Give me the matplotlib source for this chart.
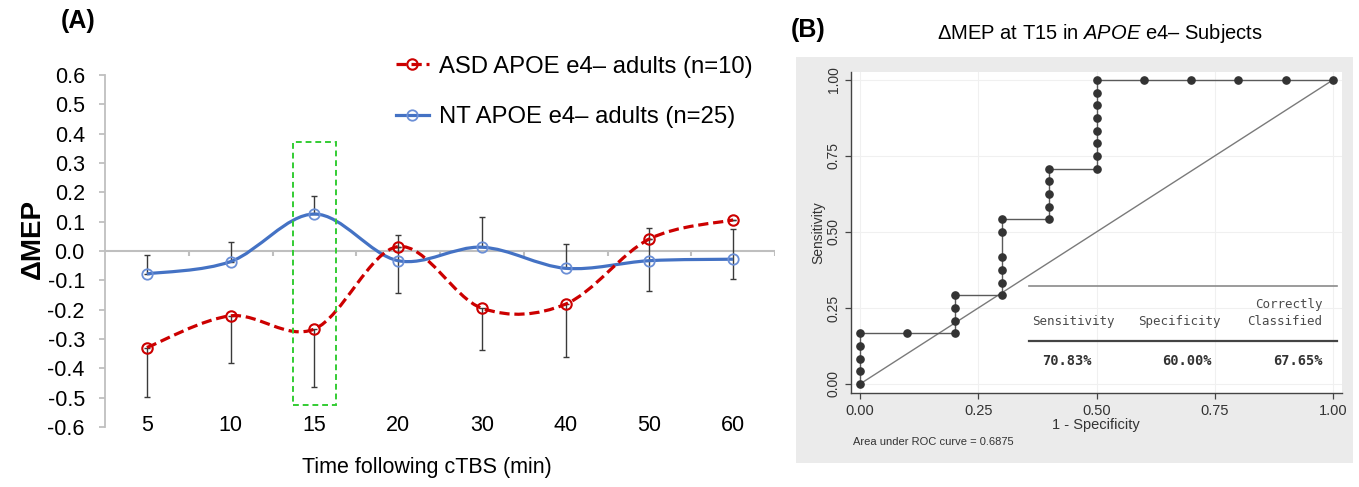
import numpy as np
import matplotlib
matplotlib.use('Agg')
import matplotlib.pyplot as plt
from matplotlib.path import Path
from matplotlib.patches import PathPatch, Rectangle
from matplotlib.lines import Line2D

plt.rcParams['font.family'] = ['Liberation Sans', 'DejaVu Sans']
plt.rcParams['mathtext.fontset'] = 'custom'
plt.rcParams['mathtext.rm'] = 'Liberation Sans'
plt.rcParams['mathtext.it'] = 'Liberation Sans:italic'

# ---------------- Panel A data ----------------
time_labels = ['5', '10', '15', '20', '30', '40', '50', '60']
asd_mean = [-0.329, -0.221, -0.266, 0.015, -0.195, -0.181, 0.041, 0.106]
asd_err_up = [0, 0, 0, 0, 0, 0, 0, 0]
asd_err_down = [0.168, 0.161, 0.199, 0, 0.143, 0.182, 0, 0]
nt_mean = [-0.078, -0.036, 0.126, -0.033, 0.013, -0.059, -0.033, -0.028]
nt_err_up = [0.065, 0.068, 0.063, 0.088, 0.102, 0.083, 0.110, 0.104]
nt_err_down = [0, 0, 0, 0.110, 0, 0, 0.102, 0.069]
asd_label = 'ASD APOE e4\u2013 adults (n=10)'
nt_label = 'NT APOE e4\u2013 adults (n=25)'
y_ticks_a = [-0.6, -0.5, -0.4, -0.3, -0.2, -0.1, 0.0, 0.1, 0.2, 0.3, 0.4, 0.5, 0.6]

# ---------------- Panel B data ----------------
n_neg = 10
n_pos = 24
roc_fp = [0, 0, 0, 0, 0, 1, 2, 2, 2, 2, 3, 3, 3, 3, 3, 3, 4, 4, 4, 4, 4,
          5, 5, 5, 5, 5, 5, 5, 5, 6, 7, 8, 9, 10]
roc_tp = [0, 1, 2, 3, 4, 4, 4, 5, 6, 7, 7, 8, 9, 10, 12, 13, 13, 14, 15, 16, 17,
          17, 18, 19, 20, 21, 22, 23, 24, 24, 24, 24, 24, 24]
roc_ticks = [0.0, 0.25, 0.5, 0.75, 1.0]
auc_text = 'Area under ROC curve = 0.6875'
table_headers = ['Sensitivity', 'Specificity', 'Correctly\nClassified']
table_values = ['70.83%', '60.00%', '67.65%']

W, H = 1359, 487
fig = plt.figure(figsize=(W / 100, H / 100), dpi=100)


def fx(px):
    return px / W


def fy(py):
    return 1 - py / H


def smooth_path(xs, ys):
    pts = np.column_stack([xs, ys]).astype(float)
    n = len(pts)
    verts = [pts[0]]
    codes = [Path.MOVETO]
    for i in range(n - 1):
        p0 = pts[i - 1] if i > 0 else pts[i]
        p1 = pts[i]
        p2 = pts[i + 1]
        p3 = pts[i + 2] if i + 2 < n else pts[i + 1]
        c1 = p1 + (p2 - p0) / 6.0
        c2 = p2 - (p3 - p1) / 6.0
        verts += [c1, c2, p2]
        codes += [Path.CURVE4] * 3
    return Path(verts, codes)


# ================= Panel B background (gray graph region) =================
bg = fig.add_axes([fx(796), fy(463), fx(1353 - 796), (463 - 57) / H], zorder=-5)
bg.set_facecolor('#EBEBEB')
bg.set_xticks([])
bg.set_yticks([])
for s in bg.spines.values():
    s.set_visible(False)

# ================= Panel A =================
axA = fig.add_axes([fx(105), fy(427), fx(775 - 105), (427 - 75) / H])
x = np.arange(len(time_labels))
red = '#CC0000'
blue = '#4472C4'
blue_m = '#6B8FD6'
gray_axis = '#BFBFBF'

axA.set_xlim(-0.5, len(time_labels) - 0.5)
axA.set_ylim(-0.6, 0.6)

axA.axhline(0, color=gray_axis, lw=1.5, zorder=1)
axA.vlines(np.arange(0.5, len(time_labels)), -0.018, 0, color=gray_axis, lw=1.5, zorder=1)

axA.errorbar(x, asd_mean, yerr=[asd_err_down, asd_err_up], fmt='none',
             ecolor='#3a3a3a', elinewidth=1.0, capsize=2.2, capthick=1.0, zorder=2)
axA.errorbar(x, nt_mean, yerr=[nt_err_down, nt_err_up], fmt='none',
             ecolor='#3a3a3a', elinewidth=1.0, capsize=2.2, capthick=1.0, zorder=2)

axA.add_patch(PathPatch(smooth_path(x, nt_mean), fill=False, edgecolor=blue,
                        lw=2.3, zorder=3, capstyle='butt'))
axA.add_patch(PathPatch(smooth_path(x, asd_mean), fill=False, edgecolor=red,
                        lw=2.3, linestyle=(0, (3.2, 1.5)), zorder=4, capstyle='butt'))
axA.plot(x, nt_mean, 'o', mfc='none', mec=blue_m, ms=7.5, mew=1.3, zorder=5)
axA.plot(x, asd_mean, 'o', mfc='none', mec=red, ms=7.5, mew=1.5, zorder=5)

axA.add_patch(Rectangle((1.74, -0.525), 0.52, 0.897, fill=False, edgecolor='#33CC33',
                        lw=1.4, linestyle=(0, (3, 2)), zorder=6))

for s in ['top', 'right', 'bottom']:
    axA.spines[s].set_visible(False)
axA.spines['left'].set_color(gray_axis)
axA.spines['left'].set_linewidth(1.3)
axA.set_yticks(y_ticks_a)
axA.set_yticklabels([f'{v:.1f}' if abs(v) > 1e-9 else '0.0' for v in y_ticks_a], fontsize=15.5)
axA.tick_params(axis='y', direction='out', length=4.5, width=1.3, color=gray_axis, pad=10)
axA.set_xticks(x)
axA.set_xticklabels(time_labels, fontsize=15.5)
axA.tick_params(axis='x', length=0, pad=-1)
for lbl in axA.get_xticklabels():
    lbl.set_va('center')

fig.text(fx(33), fy(239), '\u0394MEP', rotation=90, ha='center', va='center',
         fontsize=20, fontweight='bold')
fig.text(fx(427), fy(467), 'Time following cTBS (min)', ha='center', va='center', fontsize=15.5)
fig.text(fx(61), fy(21), '(A)', ha='left', va='center', fontsize=18, fontweight='bold')

handles = [Line2D([], [], color=red, lw=2.3, linestyle=(0, (3.2, 1.5)), marker='o',
                  mfc='none', mec=red, ms=7.5, mew=1.5),
           Line2D([], [], color=blue, lw=2.3, marker='o', mfc='none', mec=blue_m,
                  ms=7.5, mew=1.3)]
fig.legend(handles, [asd_label, nt_label], loc='upper left',
           bbox_to_anchor=(fx(386), fy(46)), frameon=False, fontsize=17.2,
           handlelength=1.4, handletextpad=0.4, labelspacing=1.2, borderaxespad=0)

# ================= Panel B =================
axB = fig.add_axes([fx(850.5), fy(393), fx(1342 - 850.5), (393 - 72) / H])
axB.set_facecolor('white')
axB.set_xlim(-0.0201, 1.019)
axB.set_ylim(-0.0296, 1.026)

fpr = np.array(roc_fp) / n_neg
tpr = np.array(roc_tp) / n_pos
axB.plot([0, 1], [0, 1], color='#7a7a7a', lw=1.0, zorder=2)
axB.plot(fpr, tpr, color='#5a5a5a', lw=1.0, marker='o', ms=5.2, mfc='#333333',
         mec='#333333', zorder=3)

axB.set_xticks(roc_ticks)
axB.set_yticks(roc_ticks)
axB.set_xticklabels([f'{v:.2f}' for v in roc_ticks], fontsize=10.5)
axB.set_yticklabels([f'{v:.2f}' for v in roc_ticks], fontsize=10, rotation=90, va='center')
axB.grid(True, color='#F0F0F0', lw=0.8, zorder=0)
axB.set_axisbelow(True)
for s in ['top', 'right']:
    axB.spines[s].set_visible(False)
for s in ['left', 'bottom']:
    axB.spines[s].set_color('#444444')
    axB.spines[s].set_linewidth(1.0)
axB.tick_params(direction='out', length=4, width=0.9, color='#444444', labelcolor='#333333')
axB.tick_params(axis='y', pad=3)
axB.tick_params(axis='x', pad=4)
axB.set_xlabel('1 - Specificity', fontsize=10.5, labelpad=0, color='#333333')
axB.set_ylabel('Sensitivity', fontsize=10, labelpad=1, color='#333333')

fig.text(fx(853), fy(442), auc_text, ha='left', va='center', fontsize=8, color='#333333')
fig.text(fx(1100), fy(33), '\u0394MEP at T15 in $APOE$ e4\u2013 Subjects', ha='center',
         va='center', fontsize=14.5)
fig.text(fx(791), fy(30), '(B)', ha='left', va='center', fontsize=18, fontweight='bold')

mono = 'DejaVu Sans Mono'
tcol = '#4a4a4a'
axB.plot([0.357, 1.008], [0.322, 0.322], color='#8a8a8a', lw=1.2, zorder=4, clip_on=False)
axB.plot([0.357, 1.008], [0.141, 0.141], color='#444444', lw=1.6, zorder=4, clip_on=False)
axB.text(0.364, 0.204, table_headers[0], family=mono, fontsize=9, color=tcol,
         ha='left', va='center')
axB.text(0.588, 0.204, table_headers[1], family=mono, fontsize=9, color=tcol,
         ha='left', va='center')
hdr3 = table_headers[2].split('\n')
axB.text(0.977, 0.263, hdr3[0], family=mono, fontsize=9, color=tcol, ha='right', va='center')
axB.text(0.977, 0.204, hdr3[1], family=mono, fontsize=9, color=tcol, ha='right', va='center')
axB.text(0.438, 0.076, table_values[0], family=mono, fontsize=9.8, color='#333333',
         fontweight='bold', ha='center', va='center')
axB.text(0.691, 0.076, table_values[1], family=mono, fontsize=9.8, color='#333333',
         fontweight='bold', ha='center', va='center')
axB.text(0.977, 0.076, table_values[2], family=mono, fontsize=9.8, color='#333333',
         fontweight='bold', ha='right', va='center')

fig.savefig('out.png', dpi=100)
